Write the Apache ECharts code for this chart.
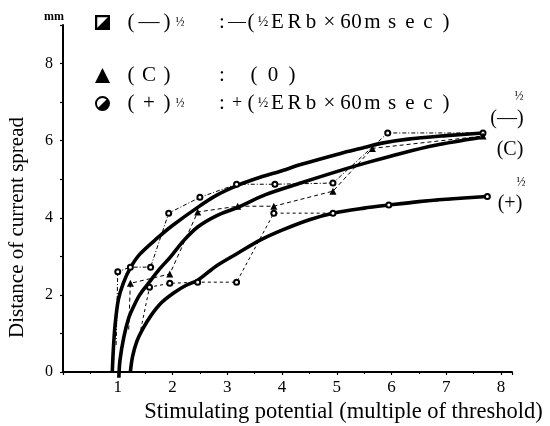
<!DOCTYPE html>
<html><head><meta charset="utf-8">
<script src="https://cdn.jsdelivr.net/npm/echarts@6/dist/echarts.min.js"></script>
<style>html,body{margin:0;padding:0;background:#fff}#c{width:550px;height:426px}</style>
</head><body><div id="c"></div>
<script>
// ---- data ----
const xTickLabels = [1, 2, 3, 4, 5, 6, 7, 8];
const yTickLabels = [0, 2, 4, 6, 8];
const seriesNames = ['(−)', '(C)', '(+)'];

// measured points: x = multiple of threshold, y = distance (mm)
const minusLead = [0.97, 0.7];
const minusPoints = [[1.0, 2.6], [1.23, 2.72], [1.6, 2.72], [1.93, 4.12], [2.5, 4.53], [3.17, 4.87], [3.87, 4.87], [4.93, 4.9], [5.93, 6.2], [7.67, 6.2]];
const controlLead = [1.2, 1.1];
const controlPoints = [[1.23, 2.3], [1.95, 2.54], [2.46, 4.15], [3.19, 4.3], [3.85, 4.3], [4.93, 4.69], [5.65, 5.8], [7.67, 6.12]];
const plusLead = [1.42, 1.1];
const plusPoints = [[1.58, 2.2], [1.95, 2.3], [2.46, 2.33], [3.17, 2.33], [3.85, 4.12], [4.93, 4.12], [5.95, 4.33], [7.75, 4.55]];

// fitted (hand-drawn) solid curves
const minusCurve = [[0.9, 0], [0.92, 0.6], [0.95, 1.2], [1.01, 1.87], [1.1, 2.3], [1.23, 2.7], [1.4, 3.05], [1.72, 3.47], [2.0, 3.8], [2.46, 4.27], [2.8, 4.58], [3.19, 4.84], [3.6, 5.05], [4.0, 5.22], [4.34, 5.38], [5.07, 5.67], [5.5, 5.82], [5.8, 5.93], [6.3, 6.04], [7.0, 6.13], [7.67, 6.2]];
const controlCurve = [[1.02, -0.15], [1.04, 0.3], [1.11, 0.9], [1.2, 1.4], [1.29, 1.7], [1.4, 2.0], [1.56, 2.3], [1.75, 2.65], [1.96, 2.98], [2.2, 3.4], [2.46, 3.76], [2.8, 4.05], [3.19, 4.27], [3.7, 4.6], [4.34, 4.9], [5.07, 5.23], [5.6, 5.45], [6.17, 5.67], [6.8, 5.88], [7.63, 6.08]];
const plusCurve = [[1.23, 0], [1.27, 0.4], [1.35, 0.8], [1.45, 1.1], [1.6, 1.45], [1.8, 1.8], [2.02, 2.05], [2.25, 2.25], [2.46, 2.38], [2.8, 2.75], [3.19, 3.08], [3.6, 3.42], [4.0, 3.68], [4.5, 3.95], [4.93, 4.12], [5.5, 4.25], [5.95, 4.33], [6.5, 4.42], [7.0, 4.48], [7.74, 4.55]];

// ---- rendering ----
const F = 'Liberation Serif';
const chart = echarts.init(document.getElementById('c'), null, {renderer: 'canvas'});

const sqIcon = 'path://M0,0L10,0L10,10L0,10Z M1.5,1.5L1.5,8.5L8.5,8.5L8.5,1.5Z M10,0L10,10L0,10Z';
const ciIcon = 'path://M0,5A5,5 0 1,1 10,5A5,5 0 1,1 0,5Z M1.3,5A3.7,3.7 0 1,0 8.7,5A3.7,3.7 0 1,0 1.3,5Z M8.54,1.46A5,5 0 0,1 1.46,8.54Z';

const rich = {};
function tok(ch, w, size) {
  const key = 'c' + w + '_' + size;
  if (!rich[key]) rich[key] = {fontFamily: F, fontSize: size, color: '#000', width: w, align: 'center'};
  return '{' + key + '|' + ch + '}';
}
function gap(w) {
  const key = 'g' + w;
  if (!rich[key]) rich[key] = {width: w};
  return '{' + key + '| }';
}
const unitText = 'ERb×60msec)';
const unitWidths = [17, 17, 16, 21, 11, 11, 21, 18, 18, 18, 18];
function unit() { return Array.from(unitText).map((c, i) => tok(c, unitWidths[i], 21)).join(''); }
function signRow(sign) {
  return gap(9) + tok('(', 14, 21) + tok(sign, 22, 21) + tok(')', 14, 21) + tok('½', 12, 12) + gap(29) +
    tok(':', 14, 21) + tok(sign, 16, 18) + tok('(', 12, 21) + tok('½', 12, 14) + unit();
}
const legendTexts = {
  '(−)': signRow('—'),
  '(C)': gap(9) + tok('(', 14, 21) + tok('C', 22, 21) + tok(')', 14, 21) + gap(41) + tok(':', 14, 21) + gap(17) +
         tok('(', 16, 21) + tok('0', 22, 21) + tok(')', 16, 21),
  '(+)': signRow('+')
};
const icons = [sqIcon, 'triangle', ciIcon];
const legendTops = [12, 65, 93];

function mkLegend(i) {
  return {
    data: [{name: seriesNames[i], icon: icons[i]}],
    left: 95, top: legendTops[i], orient: 'vertical', padding: 0,
    itemWidth: 15, itemHeight: 15, selectedMode: false,
    itemStyle: {color: '#000', borderWidth: 0},
    formatter: name => legendTexts[name],
    textStyle: {rich: rich, fontFamily: F, fontSize: 21, color: '#000'}
  };
}

function pts(lead, arr) {
  return [{value: lead, symbol: 'none'}].concat(arr.map(p => ({value: p})));
}

const baseAxisLabel = {fontFamily: F, fontSize: 17, color: '#000'};

chart.setOption({
  animation: false,
  backgroundColor: '#fff',
  grid: {left: 63, right: 38, top: 25, bottom: 54, containLabel: false, outerBoundsMode: 'none'},
  legend: [mkLegend(0), mkLegend(1), mkLegend(2)],
  xAxis: {
    type: 'value', min: 0, max: 8.2, interval: 1,
    name: 'Stimulating potential (multiple of threshold)', nameLocation: 'middle', nameGap: 27,
    nameTextStyle: {fontFamily: F, fontSize: 22.5, color: '#000', padding: [0, 0, 0, 112]},
    axisLine: {show: true, onZero: false, lineStyle: {color: '#000', width: 2}},
    axisTick: {show: true, inside: false, length: 3, lineStyle: {color: '#000', width: 1.2}},
    minorTick: {show: true, splitNumber: 2, length: 2, lineStyle: {color: '#000'}},
    splitLine: {show: false},
    axisLabel: Object.assign({}, baseAxisLabel, {margin: 7, formatter: v => xTickLabels.includes(v) ? String(v) : ''})
  },
  yAxis: {
    type: 'value', min: 0, max: 9, interval: 1,
    name: 'Distance of current spread', nameLocation: 'middle', nameGap: 35, nameRotate: 90,
    nameTextStyle: {fontFamily: F, fontSize: 21, color: '#000', padding: [0, 58, 0, 0]},
    axisLine: {show: true, onZero: false, lineStyle: {color: '#000', width: 2}},
    axisTick: {show: true, inside: false, length: 3, lineStyle: {color: '#000', width: 1.2}},
    splitLine: {show: false},
    axisLabel: Object.assign({}, baseAxisLabel, {fontSize: 16, margin: 10, formatter: v => yTickLabels.includes(v) ? String(v) : ''})
  },
  graphic: [
    {type: 'text', left: 44, top: 11, style: {text: 'mm', font: 'bold 12px "Liberation Serif"', fill: '#000'}},
    {type: 'text', x: 519, y: 97, style: {text: '½', font: '12px "Liberation Serif"', fill: '#000', align: 'center', verticalAlign: 'middle'}},
    {type: 'text', x: 507, y: 119, style: {text: '(—)', font: '20px "Liberation Serif"', fill: '#000', align: 'center', verticalAlign: 'middle'}},
    {type: 'text', x: 510, y: 150, style: {text: '(C)', font: '20px "Liberation Serif"', fill: '#000', align: 'center', verticalAlign: 'middle'}},
    {type: 'text', x: 521, y: 183, style: {text: '½', font: '12px "Liberation Serif"', fill: '#000', align: 'center', verticalAlign: 'middle'}},
    {type: 'text', x: 510, y: 204, style: {text: '(+)', font: '20px "Liberation Serif"', fill: '#000', align: 'center', verticalAlign: 'middle'}}
  ],
  series: [
    {name: '(−) curve', type: 'line', data: minusCurve, smooth: 0.3, symbol: 'none', clip: false, silent: true,
     lineStyle: {color: '#000', width: 3.6}},
    {name: '(C) curve', type: 'line', data: controlCurve, smooth: 0.3, symbol: 'none', clip: false, silent: true,
     lineStyle: {color: '#000', width: 3.6}},
    {name: '(+) curve', type: 'line', data: plusCurve, smooth: 0.3, symbol: 'none', clip: false, silent: true,
     lineStyle: {color: '#000', width: 3.6}},
    {name: seriesNames[0], type: 'line', data: pts(minusLead, minusPoints), symbol: 'emptyCircle', symbolSize: 5, z: 5,
     itemStyle: {color: '#000', borderWidth: 1.3}, lineStyle: {color: '#000', width: 1, type: [4, 2, 1, 2]}},
    {name: seriesNames[1], type: 'line', data: pts(controlLead, controlPoints), symbol: 'triangle', symbolSize: 7, z: 5,
     itemStyle: {color: '#000'}, lineStyle: {color: '#000', width: 1, type: [4, 3]}},
    {name: seriesNames[2], type: 'line', data: pts(plusLead, plusPoints), symbol: 'emptyCircle', symbolSize: 5, z: 5,
     itemStyle: {color: '#000', borderWidth: 1.3}, lineStyle: {color: '#000', width: 1, type: [3, 3]}}
  ]
});
</script></body></html>
